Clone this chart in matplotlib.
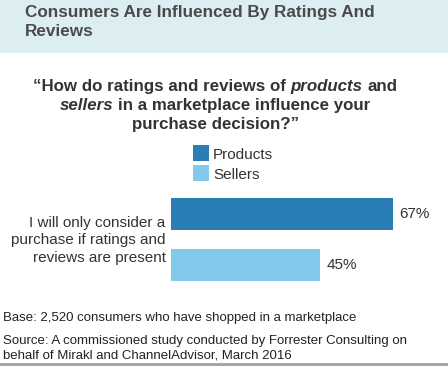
import matplotlib
matplotlib.use("Agg")
import matplotlib.pyplot as plt
from matplotlib.patches import Rectangle

# ---- data ----
title_lines = ["Consumers Are Influenced By Ratings And", "Reviews"]
category = ["I will only consider a", "purchase if ratings and", "reviews are present"]
series = ["Products", "Sellers"]
values = [67, 45]
colors = ["#2A7DB5", "#82CAEB"]
footer_base = "Base: 2,520 consumers who have shopped in a marketplace"
footer_source = ["Source: A commissioned study conducted by Forrester Consulting on",
                 "behalf of Mirakl and ChannelAdvisor, March 2016"]

W, H = 448, 374
FONT = "Liberation Sans"
plt.rcParams['font.family'] = [FONT, 'DejaVu Sans']

fig = plt.figure(figsize=(W / 100, H / 100), dpi=100)
fig.patch.set_facecolor("white")

def fx(px):
    return px / W

def fy(py):
    return 1 - py / H

# header band
fig.patches.append(Rectangle((0, fy(53)), 1, 53 / H, transform=fig.transFigure,
                             facecolor="#DCEEF1", edgecolor="none", zorder=0))
# bottom rule
fig.patches.append(Rectangle((0, fy(366)), 1, 3 / H, transform=fig.transFigure,
                             facecolor="#A6A6A6", edgecolor="none", zorder=0))

# title
for line, yb in zip(title_lines, [17, 36]):
    fig.text(fx(25), fy(yb), line, fontsize=12.3, fontweight="bold", color="#4A4A4A",
             ha="left", va="baseline")

renderer = fig.canvas.get_renderer()

QSIZE = 12.2
# measure space width in bold
_a = fig.text(0, 0, "a a", fontsize=QSIZE, fontweight="bold")
_b = fig.text(0, 0, "aa", fontsize=QSIZE, fontweight="bold")
sp = _a.get_window_extent(renderer).width - _b.get_window_extent(renderer).width
_a.remove(); _b.remove()

def rich_line(segments, xc, yb, size, color):
    texts, widths = [], []
    for s, style in segments:
        t = fig.text(0, fy(yb), s, fontsize=size, fontweight="bold", fontstyle=style,
                     color=color, ha="left", va="baseline")
        texts.append(t)
        widths.append(t.get_window_extent(renderer).width)
    total = sum(widths) + sp * (len(segments) - 1)
    x = xc - total / 2
    for t, w in zip(texts, widths):
        t.set_x(fx(x))
        x += w + sp

qc = "#333333"
rich_line([("\u201cHow do ratings and reviews of", "normal"), ("products", "italic"), ("and", "normal")],
          215, 91, QSIZE, qc)
rich_line([("sellers", "italic"), ("in a marketplace influence your", "normal")], 215, 110, QSIZE, qc)
rich_line([("purchase decision?\u201d", "normal")], 215, 129, QSIZE, qc)

# legend
for i, (name, c) in enumerate(zip(series, colors)):
    top = 145 + 20 * i
    fig.patches.append(Rectangle((fx(193), fy(top + 16)), 16 / W, 16 / H,
                                 transform=fig.transFigure, facecolor=c, edgecolor="none"))
    fig.text(fx(213), fy(159 + 20 * i), name, fontsize=11, color="#333333",
             ha="left", va="baseline")

# bars
ax = fig.add_axes([fx(171), fy(290.5), 277 / W, 102 / H])
ax.set_xlim(0, 277 / (222 / 67))
ax.set_ylim(1.5, -0.5)
ax.axis("off")
bars = ax.barh([0, 1], values, height=32 / 51, color=colors)
ax.bar_label(bars, labels=[f"{v}%" for v in values], padding=4.5, fontsize=11,
             color="#333333")

# category label
for line, yb in zip(category, [227, 244.5, 262]):
    fig.text(fx(165.5), fy(yb), line, fontsize=11, color="#333333",
             ha="right", va="baseline")

# footer
fig.text(fx(3), fy(320.5), footer_base, fontsize=9.5, color="#222222", ha="left", va="baseline")
for line, yb in zip(footer_source, [344, 358.5]):
    fig.text(fx(3), fy(yb), line, fontsize=9.5, color="#222222", ha="left", va="baseline")

fig.savefig("out.png", dpi=100)
